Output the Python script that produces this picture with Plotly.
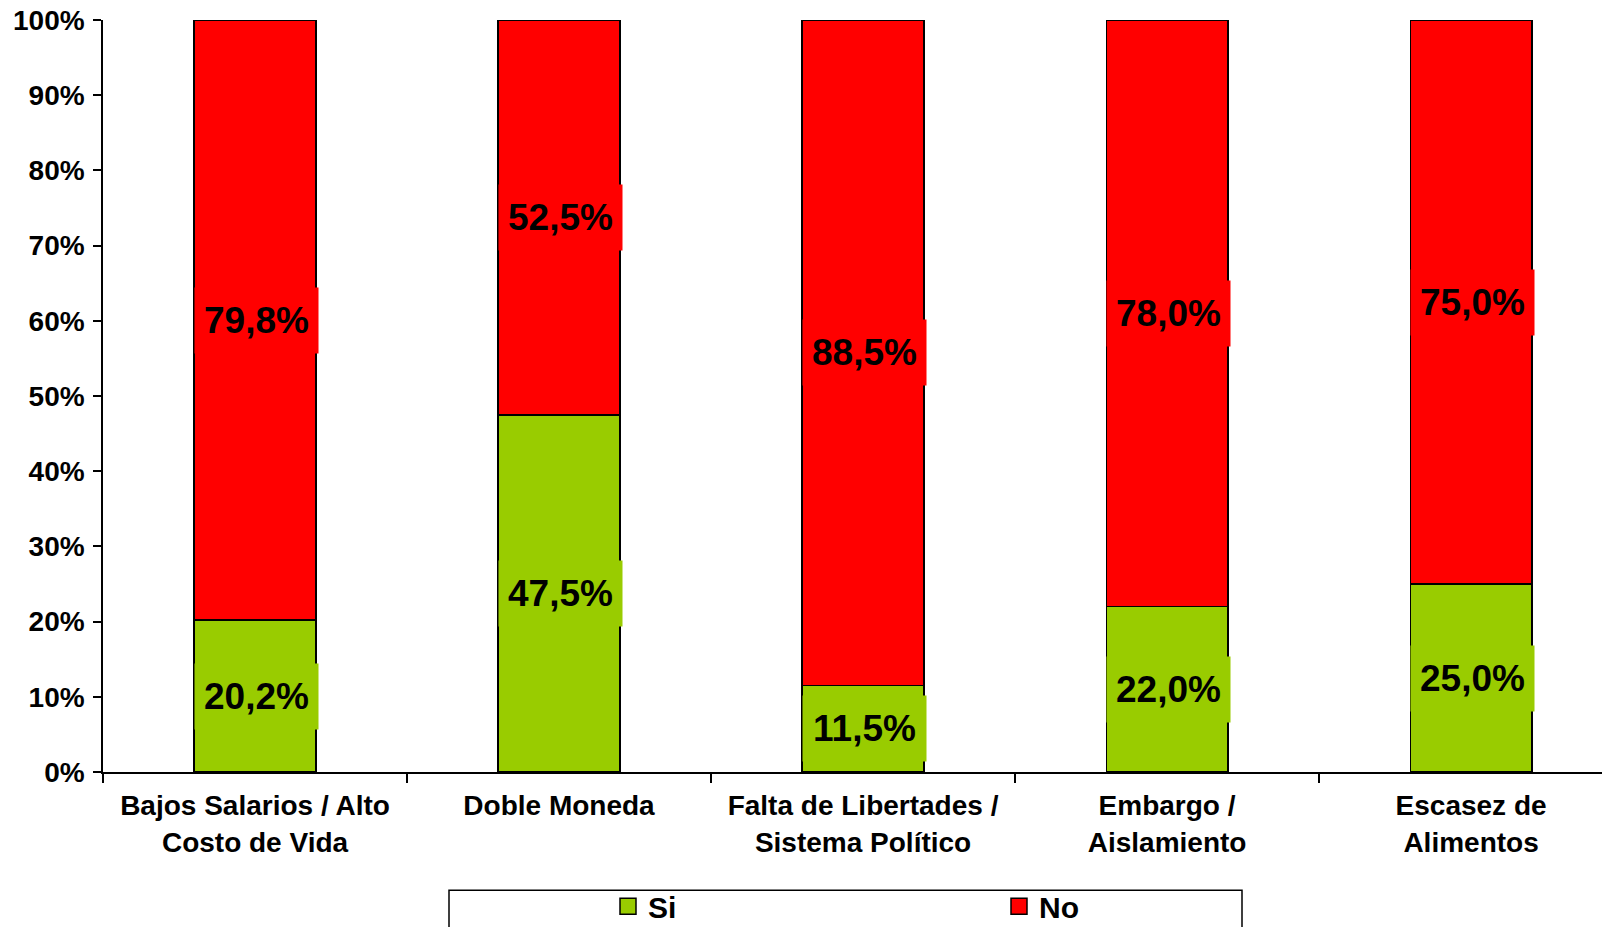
import plotly.graph_objects as go

categories = ["Bajos Salarios / Alto<br>Costo de Vida", "Doble Moneda",
              "Falta de Libertades /<br>Sistema Político", "Embargo /<br>Aislamiento",
              "Escasez de<br>Alimentos"]
si_values = [20.2, 47.5, 11.5, 22.0, 25.0]
no_values = [79.8, 52.5, 88.5, 78.0, 75.0]
si_labels = ["20,2%", "47,5%", "11,5%", "22,0%", "25,0%"]
no_labels = ["79,8%", "52,5%", "88,5%", "78,0%", "75,0%"]
y_ticks = [0, 10, 20, 30, 40, 50, 60, 70, 80, 90, 100]

GREEN = "#99CC00"
RED = "#FF0000"
FONT = "Liberation Sans"

fig = go.Figure()
fig.add_trace(go.Bar(name="Si", x=categories, y=si_values, showlegend=False,
                     marker=dict(color=GREEN, line=dict(color="black", width=1.5)), width=0.4))
fig.add_trace(go.Bar(name="No", x=categories, y=no_values, showlegend=False,
                     marker=dict(color=RED, line=dict(color="black", width=1.5)), width=0.4))
# legend entries
fig.add_trace(go.Scatter(name="<b>Si</b>", x=[None], y=[None], mode="markers",
                         marker=dict(symbol="square", size=16, color=GREEN, line=dict(color="black", width=1.5))))
fig.add_trace(go.Scatter(name="<b>No</b>", x=[None], y=[None], mode="markers",
                         marker=dict(symbol="square", size=16, color=RED, line=dict(color="black", width=1.5))))

for i, c in enumerate(categories):
    fig.add_annotation(x=c, y=si_values[i] / 2, text="<b>%s</b>" % si_labels[i], showarrow=False,
                       font=dict(family=FONT, size=37, color="black"), bgcolor=GREEN,
                       width=121, height=63, xshift=1)
    fig.add_annotation(x=c, y=si_values[i] + no_values[i] / 2, text="<b>%s</b>" % no_labels[i], showarrow=False,
                       font=dict(family=FONT, size=37, color="black"), bgcolor=RED,
                       width=121, height=63, xshift=1)

# legend frame
fig.add_shape(type="rect", xref="paper", yref="paper",
              x0=(449 - 103) / 1507, x1=(1242 - 103) / 1507,
              y0=(764 - 881) / 744, y1=(764 - 960) / 744,
              line=dict(color="black", width=1.5), fillcolor="rgba(0,0,0,0)")

fig.update_layout(
    width=1602, height=919,
    barmode="stack", bargap=0.6,
    plot_bgcolor="white", paper_bgcolor="white",
    margin=dict(l=95, r=0, t=12, b=155, autoexpand=False),
    font=dict(family=FONT, color="black"),
    showlegend=True,
    legend=dict(orientation="h", x=(608 - 103) / 1507, y=(764 - 871) / 744,
                xanchor="left", yanchor="top", entrywidth=346, entrywidthmode="pixels",
                font=dict(family=FONT, size=30, color="black"), traceorder="normal",
                bgcolor="rgba(0,0,0,0)", borderwidth=0, itemsizing="trace"),
    xaxis=dict(type="category", range=[-0.5, 4.457], tickson="boundaries", ticks="outside",
               ticklen=9, tickwidth=1.5, tickcolor="black", showline=True, linecolor="black",
               linewidth=1.5, showgrid=False, tickangle=0,
               tickfont=dict(family=FONT, size=28, color="black"), ticklabelstandoff=8),
    yaxis=dict(range=[0, 100], tickvals=y_ticks, ticktext=["<b>%d%%</b>" % v for v in y_ticks],
               ticks="outside", ticklen=8, tickwidth=1.5, tickcolor="black", showline=True,
               linecolor="black", linewidth=1.5, showgrid=False, zeroline=False,
               ticklabeloverflow="allow",
               tickfont=dict(family=FONT, size=28, color="black"), ticklabelstandoff=3),
)
fig.update_xaxes(ticktext=["<b>%s</b>" % c for c in categories], tickvals=categories)

fig.write_html("out.html")
